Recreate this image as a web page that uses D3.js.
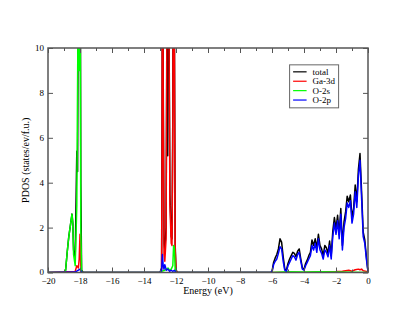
<!DOCTYPE html>
<html>
<head>
<meta charset="utf-8">
<script src="https://cdn.jsdelivr.net/npm/d3@7"></script>
<style>
  body { margin: 0; background: #fff; }
  svg { display: block; font-family: "Liberation Serif", "DejaVu Serif", serif; }
</style>
</head>
<body>
<svg id="chart" width="415" height="321"></svg>
<script>
// PDOS curves as [energy (eV), states/ev/f.u.] pairs
const total = [
  [-20, 0], [-19, 0], [-18.9, 0.1], [-18.8, 0.9], [-18.7, 1.6], [-18.6, 2.1], [-18.5, 2.6],
  [-18.45, 2.2], [-18.4, 1.0], [-18.3, 0.6], [-18.2, 5.4], [-18.15, 4.5], [-18.1, 16],
  [-18.05, 12], [-18.0, 20], [-17.95, 4], [-17.9, 0.1], [-17.8, 0],
  [-13.0, 0], [-12.9, 0.2], [-12.87, 7], [-12.84, 19], [-12.8, 9], [-12.75, 1.3],
  [-12.7, 1.0], [-12.62, 2.0], [-12.55, 15], [-12.52, 5.2], [-12.5, 21], [-12.45, 13],
  [-12.38, 3.5], [-12.3, 1.6], [-12.25, 1.5], [-12.2, 7], [-12.15, 24], [-12.1, 11],
  [-12.05, 1.2], [-12.0, 0.1], [-11.9, 0],
  [-6.1, 0], [-6.0, 0.05], [-5.9, 0.45], [-5.8, 0.65], [-5.7, 0.8], [-5.6, 1.05],
  [-5.5, 1.5], [-5.4, 1.35], [-5.3, 0.7], [-5.2, 0.15], [-5.1, 0.1], [-5.0, 0.4],
  [-4.9, 0.6], [-4.8, 0.75], [-4.7, 0.9], [-4.6, 0.85], [-4.5, 0.7], [-4.4, 0.95],
  [-4.3, 1.05], [-4.2, 0.6], [-4.1, 0.2], [-4.0, 0.15], [-3.9, 0.4], [-3.8, 0.55],
  [-3.7, 0.75], [-3.6, 0.9], [-3.5, 1.45], [-3.4, 1.2], [-3.3, 1.5], [-3.2, 1.1],
  [-3.1, 1.7], [-3.0, 1.2], [-2.9, 1.05], [-2.8, 0.75], [-2.7, 1.2], [-2.6, 1.1],
  [-2.5, 0.85], [-2.4, 1.4], [-2.3, 0.75], [-2.2, 1.85], [-2.1, 2.45], [-2.0, 1.95],
  [-1.9, 2.55], [-1.8, 1.7], [-1.7, 2.85], [-1.6, 1.2], [-1.5, 2.25], [-1.4, 2.7],
  [-1.3, 3.4], [-1.2, 3.15], [-1.1, 3.45], [-1.0, 2.45], [-0.9, 2.85], [-0.8, 3.9],
  [-0.7, 3.15], [-0.6, 4.6], [-0.5, 5.3], [-0.4, 3.6], [-0.3, 1.8], [-0.2, 1.45],
  [-0.1, 0.7], [0.0, 0.05]
];

const ga3d = [
  [-20, 0], [-18.3, 0.05], [-18.2, 0.3], [-18.15, 0.25], [-18.1, 0.2], [-18.05, 0.6],
  [-18.0, 1.7], [-17.95, 0.3], [-17.9, 0],
  [-13.0, 0], [-12.9, 0.05], [-12.87, 6], [-12.84, 18], [-12.8, 8], [-12.75, 0.8],
  [-12.7, 0.5], [-12.62, 1.5], [-12.55, 14], [-12.5, 20], [-12.45, 12], [-12.38, 3],
  [-12.3, 1.3], [-12.25, 1.2], [-12.2, 6], [-12.15, 22], [-12.1, 10], [-12.05, 1],
  [-12.0, 0.1], [-11.9, 0],
  [-4.0, 0], [-3.0, 0.02], [-2.0, 0.04], [-1.6, 0.06], [-1.2, 0.1], [-1.0, 0.06],
  [-0.8, 0.12], [-0.6, 0.15], [-0.5, 0.12], [-0.4, 0.15], [-0.3, 0.08], [-0.1, 0.05], [0.0, 0]
];

const o2s = [
  [-20, 0], [-19, 0], [-18.9, 0.1], [-18.8, 0.9], [-18.7, 1.6], [-18.6, 2.1], [-18.5, 2.6],
  [-18.45, 2.2], [-18.4, 0.8], [-18.3, 0.3], [-18.2, 3], [-18.1, 14], [-18.05, 9],
  [-18.0, 16], [-17.95, 2], [-17.9, 0],
  [-13.0, 0], [-12.9, 0.05], [-12.7, 0.1], [-12.5, 0.2], [-12.4, 0.1], [-12.3, 0.15],
  [-12.2, 0.3], [-12.15, 1.2], [-12.1, 1.1], [-12.05, 0.1], [-12.0, 0],
  [-6.0, 0], [-5.0, 0.03], [-4.0, 0.02], [-3.0, 0.03], [-2.0, 0.02], [-1.0, 0.01], [0.0, 0]
];

const o2p = [
  [-20, 0], [-18.3, 0.02], [-18.0, 0.15], [-17.9, 0],
  [-13.0, 0], [-12.9, 0.1], [-12.85, 0.8], [-12.8, 0.3], [-12.75, 0.15], [-12.7, 0.35],
  [-12.6, 0.1], [-12.5, 0.15], [-12.4, 0.05], [-12.3, 0.1], [-12.2, 0.05], [-12.1, 0.1],
  [-12.0, 0],
  [-6.1, 0], [-6.0, 0.02], [-5.9, 0.35], [-5.8, 0.5], [-5.7, 0.6], [-5.6, 0.85],
  [-5.5, 1.15], [-5.4, 1.05], [-5.3, 0.5], [-5.2, 0.1], [-5.1, 0.05], [-5.0, 0.3],
  [-4.9, 0.45], [-4.8, 0.6], [-4.7, 0.75], [-4.6, 0.7], [-4.5, 0.55], [-4.4, 0.8],
  [-4.3, 0.9], [-4.2, 0.5], [-4.1, 0.15], [-4.0, 0.1], [-3.9, 0.3], [-3.8, 0.45],
  [-3.7, 0.6], [-3.6, 0.75], [-3.5, 1.2], [-3.4, 1.0], [-3.3, 1.3], [-3.2, 0.9],
  [-3.1, 1.5], [-3.0, 1.0], [-2.9, 0.85], [-2.8, 0.6], [-2.7, 1.0], [-2.6, 0.9],
  [-2.5, 0.7], [-2.4, 1.2], [-2.3, 0.6], [-2.2, 1.6], [-2.1, 2.2], [-2.0, 1.7],
  [-1.9, 2.3], [-1.8, 1.5], [-1.7, 2.6], [-1.6, 1.0], [-1.5, 2.0], [-1.4, 2.4],
  [-1.3, 3.1], [-1.2, 2.9], [-1.1, 3.2], [-1.0, 2.2], [-0.9, 2.6], [-0.8, 3.6],
  [-0.7, 2.9], [-0.6, 4.3], [-0.5, 5.0], [-0.4, 3.3], [-0.3, 1.6], [-0.2, 1.3],
  [-0.1, 0.6], [0.0, 0.05]
];

const seriesNames = ["total", "Ga-3d", "O-2s", "O-2p"];
const seriesColors = ["#000000", "#ff0000", "#00ff00", "#0000ff"];
const seriesData = [total, ga3d, o2s, o2p];

const xTicks = [-20, -18, -16, -14, -12, -10, -8, -6, -4, -2, 0];
const yTicks = [0, 2, 4, 6, 8, 10];

const svg = d3.select("#chart");
const margin = { top: 48, right: 47, bottom: 48.5, left: 48 };
const width = 415 - margin.left - margin.right;
const height = 321 - margin.top - margin.bottom;

const x = d3.scaleLinear().domain([-20, 0]).range([0, width]);
const y = d3.scaleLinear().domain([0, 10]).range([height, 0]);

const g = svg.append("g").attr("transform", `translate(${margin.left},${margin.top})`);

g.append("clipPath").attr("id", "plot-clip")
  .append("rect").attr("x", 0).attr("y", 0).attr("width", width).attr("height", height);

const line = d3.line().x((d) => x(d[0])).y((d) => y(d[1]));

seriesData.forEach((data, i) =>
  g.append("path")
    .datum(data)
    .attr("clip-path", "url(#plot-clip)")
    .attr("d", line)
    .attr("fill", "none")
    .attr("stroke", seriesColors[i])
    .attr("stroke-width", 1.5)
    .attr("stroke-linejoin", "round")
);

// axes: ticks point into the plot on all four sides
const axisColor = "#555";
const styleAxis = (sel) => {
  sel.select(".domain").remove();
  sel.selectAll(".tick line").attr("stroke", axisColor);
  sel.selectAll(".tick text")
    .attr("fill", "#000")
    .style("font-family", '"Liberation Serif", serif')
    .style("font-size", "9px");
};

const xMinor = d3.range(-19, 0, 2);

g.append("g").attr("transform", `translate(0,${height})`)
  .call(d3.axisBottom(x).tickValues(xTicks).tickSize(-5).tickPadding(5).tickFormat(d3.format("d")))
  .call(styleAxis);
g.append("g").attr("transform", `translate(0,${height})`)
  .call(d3.axisBottom(x).tickValues(xMinor).tickSize(-3).tickFormat(""))
  .call(styleAxis);
g.append("g")
  .call(d3.axisTop(x).tickValues(xTicks).tickSize(-5).tickFormat(""))
  .call(styleAxis);
g.append("g")
  .call(d3.axisTop(x).tickValues(xMinor).tickSize(-3).tickFormat(""))
  .call(styleAxis);
g.append("g")
  .call(d3.axisLeft(y).tickValues(yTicks).tickSize(-5).tickPadding(4).tickFormat(d3.format("d")))
  .call(styleAxis)
  .call((a) => a.selectAll(".tick text").filter((d) => d === 0).attr("dy", "0.2em"));
g.append("g").attr("transform", `translate(${width},0)`)
  .call(d3.axisRight(y).tickValues(yTicks).tickSize(-5).tickFormat(""))
  .call(styleAxis);

g.append("rect")
  .attr("width", width).attr("height", height)
  .attr("fill", "none")
  .attr("stroke", axisColor)
  .attr("stroke-width", 1.5);

g.append("text")
  .attr("x", width / 2)
  .attr("y", height + 21)
  .attr("text-anchor", "middle")
  .style("font-size", "10px")
  .text("Energy (eV)");

g.append("text")
  .attr("transform", `translate(-19,${height / 2}) rotate(-90)`)
  .attr("text-anchor", "middle")
  .style("font-size", "10px")
  .text("PDOS (states/ev/f.u.)");

// legend
const legend = g.append("g").attr("transform", `translate(${x(-4.9)},${y(9.25)})`);
legend.append("rect")
  .attr("width", 49).attr("height", 43)
  .attr("fill", "#fff")
  .attr("stroke", "#666")
  .attr("stroke-width", 1);
seriesNames.forEach((name, i) => {
  const row = legend.append("g").attr("transform", `translate(0,${7 + i * 9.4})`);
  row.append("line")
    .attr("x1", 3.5).attr("x2", 17)
    .attr("stroke", seriesColors[i])
    .attr("stroke-width", 1.2);
  row.append("text")
    .attr("x", 23).attr("y", 3)
    .style("font-size", "9px")
    .text(name);
});
</script>
</body>
</html>
